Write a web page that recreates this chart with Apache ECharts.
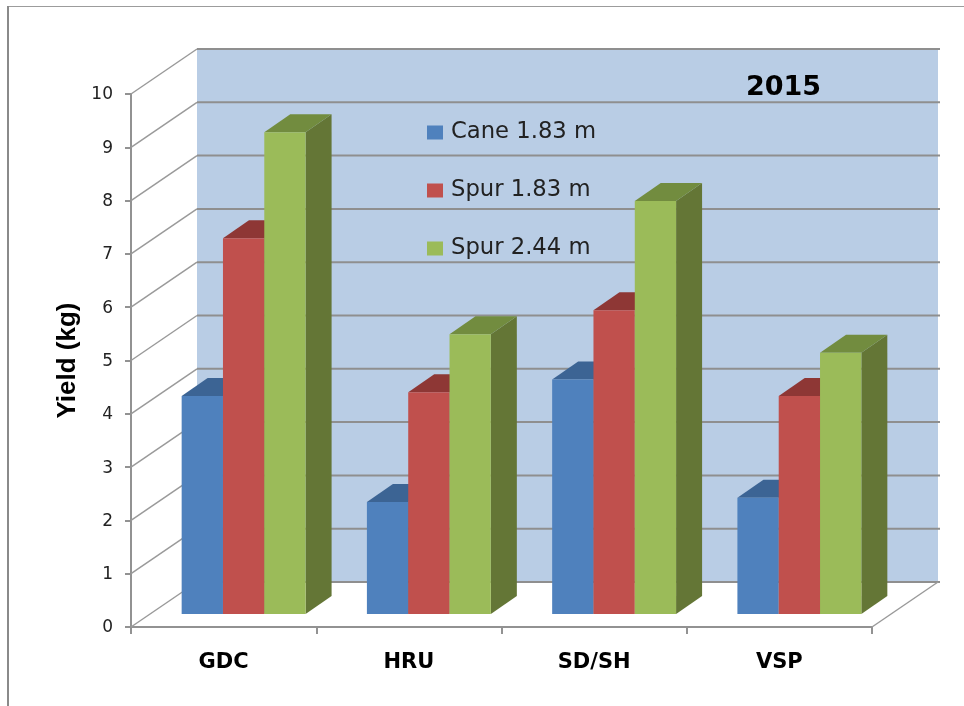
<!DOCTYPE html>
<html>
<head>
<meta charset="utf-8">
<title>Yield 2015</title>
<script src="https://cdn.jsdelivr.net/npm/echarts@6/dist/echarts.min.js"></script>
<style>
html, body { margin: 0; padding: 0; background: #fff; }
#chart { width: 964px; height: 706px; }
</style>
</head>
<body>
<div id="chart"></div>
<script>
const categories = ['GDC', 'HRU', 'SD/SH', 'VSP'];
const yTicks = [0, 1, 2, 3, 4, 5, 6, 7, 8, 9, 10];
const cane183 = [4.09, 2.10, 4.40, 2.18];
const spur183 = [7.05, 4.16, 5.70, 4.09];
const spur244 = [9.04, 5.25, 7.75, 4.90];

// fake 3D: how far the back wall sits from the front plane, in pixels
const wallDx = 66;
const wallDy = -45;
const barDx = 26;
const barDy = -18;
const barShiftX = 20;
const barShiftY = -13;
const barShare = 0.223;

const myChart = echarts.init(document.getElementById('chart'));

const renderWall = (params, api) => {
    const rect = params.coordSys;
    const y = api.coord([0, api.value(1)])[1];
    const right = rect.x + rect.width + wallDx;
    const children = [];
    const slant = { stroke: '#9a9a9a', lineWidth: 1.5 };
    if (api.value(1) === 10) {
        // back wall, drawn once behind the lines
        const bottom = api.coord([0, 0])[1] + wallDy;
        children.push({
            type: 'rect',
            z2: 0,
            shape: { x: rect.x + wallDx, y: y + wallDy, width: rect.width, height: bottom - y - wallDy },
            style: { fill: '#b9cde5' }
        });
    }
    children.push({
        type: 'line',
        z2: 1,
        shape: { x1: rect.x, y1: y, x2: rect.x + wallDx, y2: y + wallDy },
        style: slant
    });
    children.push({
        type: 'line',
        z2: 1,
        shape: { x1: rect.x + wallDx, y1: y + wallDy, x2: right + 2, y2: y + wallDy },
        style: { stroke: '#8f8f8f', lineWidth: 2 }
    });
    if (api.value(1) === 0) {
        children.push({
            type: 'line',
            z2: 1,
            shape: { x1: rect.x + rect.width, y1: y, x2: right, y2: y + wallDy },
            style: slant
        });
    }
    return { type: 'group', children };
};

const makeBarRender = (slot, colors) => (params, api) => {
    const base = api.coord([api.value(0), 0]);
    const top = api.coord([api.value(0), api.value(1)]);
    const w = api.size([1, 0])[0] * barShare;
    const x0 = base[0] + barShiftX + (slot - 1.5) * w;
    const x1 = x0 + w;
    const y0 = base[1] + barShiftY;
    const y1 = top[1] + barShiftY;
    return {
        type: 'group',
        children: [
            {
                type: 'polygon',
                shape: { points: [[x1, y0], [x1 + barDx, y0 + barDy], [x1 + barDx, y1 + barDy], [x1, y1]] },
                style: { fill: colors.side }
            },
            {
                type: 'polygon',
                shape: { points: [[x0, y1], [x0 + barDx, y1 + barDy], [x1 + barDx, y1 + barDy], [x1, y1]] },
                style: { fill: colors.top }
            },
            {
                type: 'rect',
                shape: { x: x0, y: y1, width: w, height: y0 - y1 },
                style: { fill: colors.front }
            }
        ]
    };
};

const makeBarSeries = (name, values, slot, colors) => ({
    type: 'custom',
    name,
    z: 3,
    renderItem: makeBarRender(slot, colors),
    itemStyle: { color: colors.front },
    encode: { x: 0, y: 1 },
    data: values.map((v, i) => [i, v])
});

const option = {
    backgroundColor: '#fff',
    animation: false,
    textStyle: { fontFamily: 'DejaVu Sans' },
    title: {
        text: '2015',
        left: 741,
        top: 69,
        textStyle: { fontFamily: 'DejaVu Sans', fontSize: 27, fontWeight: 'bold', color: '#000' }
    },
    legend: {
        orient: 'vertical',
        left: 422,
        top: 116,
        icon: 'rect',
        itemWidth: 16,
        itemHeight: 14,
        itemGap: 35,
        data: ['Cane 1.83 m', 'Spur 1.83 m', 'Spur 2.44 m'],
        textStyle: { fontFamily: 'DejaVu Sans', fontSize: 22.7, color: '#222', padding: [0, 0, 0, 3] }
    },
    grid: { left: 131, top: 94, width: 741, height: 533 },
    xAxis: {
        type: 'category',
        data: categories,
        axisLine: { show: true, lineStyle: { color: '#929292', width: 2 } },
        axisTick: { show: true, length: 7, lineStyle: { color: '#929292', width: 2 } },
        axisLabel: { margin: 25, fontFamily: 'DejaVu Sans', fontSize: 21, fontWeight: 'bold', color: '#000' }
    },
    yAxis: {
        type: 'value',
        min: 0,
        max: 10,
        interval: 1,
        name: 'Yield (kg)',
        nameLocation: 'middle',
        nameGap: 50,
        nameTextStyle: { fontFamily: 'Liberation Sans', fontSize: 26, fontWeight: 'bold', color: '#000' },
        splitLine: { show: false },
        axisLine: { show: true, lineStyle: { color: '#929292', width: 2 } },
        axisTick: { show: true, length: 6, lineStyle: { color: '#929292', width: 2 } },
        // top align with a tiny line height nudges the numbers just under the ticks
        axisLabel: { margin: 18, verticalAlign: 'top', lineHeight: 2, fontFamily: 'DejaVu Sans', fontSize: 17, color: '#222' }
    },
    series: [
        {
            type: 'custom',
            name: 'walls',
            z: 1,
            silent: true,
            renderItem: renderWall,
            encode: { x: 0, y: 1 },
            data: yTicks.slice().reverse().map((v) => [0, v])
        },
        makeBarSeries('Cane 1.83 m', cane183, 0, { front: '#4f81bd', top: '#3c6494', side: '#375b87' }),
        makeBarSeries('Spur 1.83 m', spur183, 1, { front: '#c0504d', top: '#8e3735', side: '#7f3331' }),
        makeBarSeries('Spur 2.44 m', spur244, 2, { front: '#9bbb59', top: '#728c3f', side: '#647636' })
    ],
    graphic: [
        // slide frame, top and left edges
        { type: 'line', shape: { x1: 8, y1: 6.5, x2: 964, y2: 6.5 }, style: { stroke: '#9c9c9c', lineWidth: 1 } },
        { type: 'line', shape: { x1: 8, y1: 6, x2: 8, y2: 706 }, style: { stroke: '#8a8a8a', lineWidth: 2 } }
    ]
};

myChart.setOption(option);
</script>
</body>
</html>
